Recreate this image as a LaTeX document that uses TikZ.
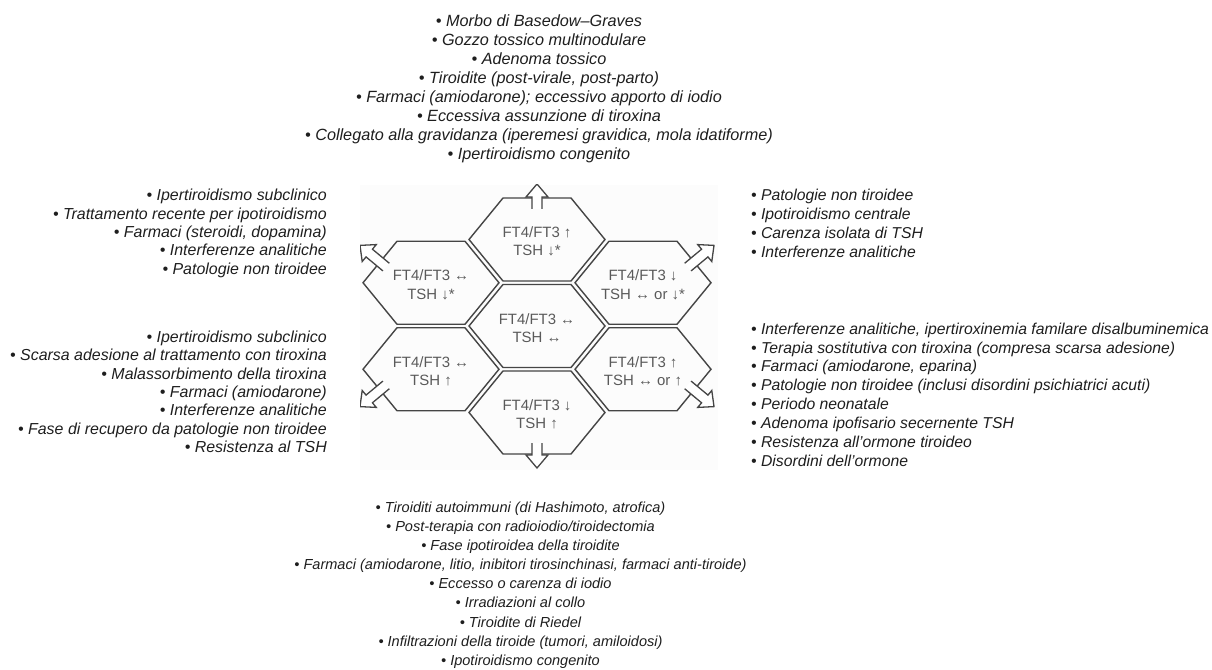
\documentclass[tikz,border=0pt]{standalone}
\usepackage{fontspec}
\setmainfont{Liberation Sans}
\usetikzlibrary{calc}
\definecolor{hexedge}{HTML}{454545}
\definecolor{hextext}{HTML}{5A5A5A}
\definecolor{listtext}{HTML}{1E1E1E}
\tikzset{
  hexline/.style={draw=hexedge, line width=1.4bp, line join=miter},
  arrline/.style={draw=hexedge, line width=1.3bp, line join=miter},
  % flat-topped hexagon cell
  pics/hexa/.style={code={
    \draw[hexline] (-68,0) -- (-34,-41.5) -- (34,-41.5) -- (68,0) -- (34,41.5) -- (-34,41.5) -- cycle;}},
  % short hollow block arrow (vertical ones)
  pics/vblock/.style={code={
    \fill[white] (-11,-5) -- (1,-5) -- (1,-11) -- (14,0) -- (1,11) -- (1,5) -- (-11,5) -- cycle;
    \draw[arrline] (-11,-5) -- (1,-5) -- (1,-11) -- (14,0) -- (1,11) -- (1,5) -- (-11,5);}},
  % longer hollow block arrow (diagonal ones)
  pics/dblock/.style={code={
    \fill[white] (-8,-5) -- (14,-5) -- (14,-11) -- (26,0) -- (14,11) -- (14,5) -- (-8,5) -- cycle;
    \draw[arrline] (-8,-5) -- (14,-5) -- (14,-11) -- (26,0) -- (14,11) -- (14,5) -- (-8,5);}},
  hexlabel/.style={text=hextext, font=\fontsize{15}{18.5}\selectfont, align=center, inner sep=0pt},
  caselist/.style 2 args={text=listtext, inner sep=0pt, font=\fontsize{#1}{#2}\selectfont\itshape},
}
\begin{document}
\begin{tikzpicture}[x=1bp, y=-1bp]
\useasboundingbox (0,0) rectangle (1212,670);

% panel behind the honeycomb
\fill[black!1] (360,185) rectangle (718,470);

% cell centres
\coordinate (cT)  at (537,239.5);
\coordinate (cC)  at (537,326);
\coordinate (cB)  at (537,412.5);
\coordinate (cLU) at (431,282.75);
\coordinate (cLL) at (431,369.25);
\coordinate (cRU) at (643,282.75);
\coordinate (cRL) at (643,369.25);

\foreach \c in {cT,cC,cB,cLU,cLL,cRU,cRL} \pic at (\c) {hexa};

% outward arrows
\begin{scope}
  \clip (360,185) rectangle (718,470);
  \pic[rotate=90]     at ($(cT)+(0,-41.5)$)     {vblock};
  \pic[rotate=-90]    at ($(cB)+(0,41.5)$)      {vblock};
  \pic[rotate=140.3]  at ($(cLU)+(-51,-20.75)$) {dblock};
  \pic[rotate=39.7]   at ($(cRU)+(51,-20.75)$)  {dblock};
  \pic[rotate=-140.3] at ($(cLL)+(-51,20.75)$)  {dblock};
  \pic[rotate=-39.7]  at ($(cRL)+(51,20.75)$)   {dblock};
\end{scope}

% cell labels
\node[hexlabel] (hT)  at ($(cT)+(0,2)$)  {FT4/FT3 ↑\\TSH ↓*};
\node[hexlabel] (hC)  at ($(cC)+(0,2)$)  {FT4/FT3 ↔\\TSH ↔};
\node[hexlabel] (hB)  at ($(cB)+(0,2)$)  {FT4/FT3 ↓\\TSH ↑};
\node[hexlabel] (hLU) at ($(cLU)+(0,2)$) {FT4/FT3 ↔\\TSH ↓*};
\node[hexlabel] (hLL) at ($(cLL)+(0,2)$) {FT4/FT3 ↔\\TSH ↑};
\node[hexlabel] (hRU) at ($(cRU)+(0,2)$) {FT4/FT3 ↓\\TSH ↔ or ↓*};
\node[hexlabel] (hRL) at ($(cRL)+(0,2)$) {FT4/FT3 ↑\\TSH ↔ or ↑};

% lists of causes
\node[caselist={16.3}{19.1}, align=center] (lT) at (539,89) {%
• Morbo di Basedow–Graves\\
• Gozzo tossico multinodulare\\
• Adenoma tossico\\
• Tiroidite (post-virale, post-parto)\\
• Farmaci (amiodarone); eccessivo apporto di iodio\\
• Eccessiva assunzione di tiroxina\\
• Collegato alla gravidanza (iperemesi gravidica, mola idatiforme)\\
• Ipertiroidismo congenito};

\node[caselist={16}{18.4}, align=right, anchor=east] (lLU) at (327,233.5) {%
• Ipertiroidismo subclinico\\
• Trattamento recente per ipotiroidismo\\
• Farmaci (steroidi, dopamina)\\
• Interferenze analitiche\\
• Patologie non tiroidee};

\node[caselist={16}{18.4}, align=right, anchor=east] (lLL) at (327,391.7) {%
• Ipertiroidismo subclinico\\
• Scarsa adesione al trattamento con tiroxina\\
• Malassorbimento della tiroxina\\
• Farmaci (amiodarone)\\
• Interferenze analitiche\\
• Fase di recupero da patologie non tiroidee\\
• Resistenza al TSH};

\node[caselist={15.8}{18.9}, align=left, anchor=west] (lRU) at (751,223.3) {%
• Patologie non tiroidee\\
• Ipotiroidismo centrale\\
• Carenza isolata di TSH\\
• Interferenze analitiche};

\node[caselist={15.8}{18.9}, align=left, anchor=west] (lRL) at (751,394.5) {%
• Interferenze analitiche, ipertiroxinemia familare disalbuminemica\\
• Terapia sostitutiva con tiroxina (compresa scarsa adesione)\\
• Farmaci (amiodarone, eparina)\\
• Patologie non tiroidee (inclusi disordini psichiatrici acuti)\\
• Periodo neonatale\\
• Adenoma ipofisario secernente TSH\\
• Resistenza all’ormone tiroideo\\
• Disordini dell’ormone};

\node[caselist={14.6}{19.2}, align=center] (lB) at (520.5,585) {%
• Tiroiditi autoimmuni (di Hashimoto, atrofica)\\
• Post-terapia con radioiodio/tiroidectomia\\
• Fase ipotiroidea della tiroidite\\
• Farmaci (amiodarone, litio, inibitori tirosinchinasi, farmaci anti-tiroide)\\
• Eccesso o carenza di iodio\\
• Irradiazioni al collo\\
• Tiroidite di Riedel\\
• Infiltrazioni della tiroide (tumori, amiloidosi)\\
• Ipotiroidismo congenito};
\end{tikzpicture}
\end{document}
